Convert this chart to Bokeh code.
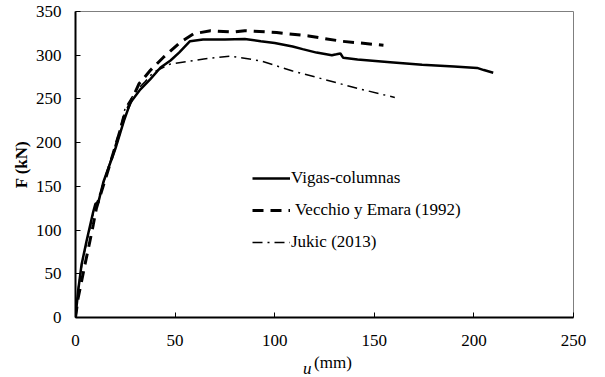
import math
from bokeh.plotting import figure
from bokeh.models import Range1d, Legend, LegendItem, FixedTicker, Label
from bokeh.embed import file_html
from bokeh.resources import INLINE

# Vigas-columnas (solid)
vc_u = [0, 1.3, 3, 5.5, 8.9, 10, 11.5, 14, 20, 24.3, 27.6, 32.6, 37.7, 42.7, 47.7, 52,
        57.5, 64, 75, 85, 93, 100, 109, 114, 121, 128.7, 131, 133, 134.4, 141.6, 158,
        174, 190, 201.6, 205, 209.7]
vc_f = [0, 30, 60, 87, 121, 130, 132, 155, 193, 225, 246, 261, 273, 286, 294, 303,
        316, 318, 318, 318.5, 316, 314, 310, 307, 303, 300, 301, 302, 297, 295, 292,
        289, 287, 285.5, 283, 280]

# Vecchio y Emara (1992) (dashed)
ve_u = [0, 1.3, 3, 4.7, 7.2, 8.9, 10.5, 16.7, 24.8, 31.8, 37.7, 44.3, 52.7, 59.4,
        67.8, 79.3, 85, 101, 117, 133.5, 154.6]
ve_f = [0, 22, 41, 60, 87, 106, 125, 171, 232, 267, 283, 298, 315, 324.6, 328,
        326.4, 328, 326, 322, 316, 311.4]

# Jukic (2013) (dash-dot)
jk_u = [0, 1.5, 3.5, 6, 9, 12, 17, 21, 25, 30, 35, 39.2, 47.7, 64.4, 77.8, 93, 109,
        125.4, 141.6, 160.3]
jk_f = [0, 35, 65, 90, 120, 140, 175, 205, 240, 258, 270, 280.6, 290, 295.7, 299,
        293.5, 282, 272, 262, 251.7]

x_ticks = [0, 50, 100, 150, 200, 250]
y_ticks = [0, 50, 100, 150, 200, 250, 300, 350]

FONT = "Times New Roman"

p = figure(width=605, height=377, output_backend="svg", toolbar_location=None,
           x_range=Range1d(0, 250), y_range=Range1d(0, 350),
           min_border_left=75, min_border_right=32, min_border_top=11,
           min_border_bottom=60)

p.xgrid.visible = False
p.ygrid.visible = False
p.outline_line_color = "#7f7f7f"
p.outline_line_width = 1

for ax in (p.xaxis[0], p.yaxis[0]):
    ax.axis_line_color = "black"
    ax.axis_line_width = 2
    ax.major_tick_in = 5
    ax.major_tick_out = 0
    ax.major_tick_line_color = "black"
    ax.major_tick_line_width = 1
    ax.minor_tick_line_color = None
    ax.major_label_text_font = FONT
    ax.major_label_text_font_size = "17px"
    ax.major_label_text_color = "black"
    ax.axis_label_text_font = FONT
    ax.axis_label_text_font_size = "17px"
    ax.axis_label_text_color = "black"
p.xaxis.ticker = FixedTicker(ticks=x_ticks)
p.yaxis.ticker = FixedTicker(ticks=y_ticks)
p.xaxis.major_label_standoff = 17
p.yaxis.major_label_standoff = 14

p.yaxis.axis_label = "F (kN)"
p.yaxis.axis_label_text_font_style = "bold"
p.yaxis.axis_label_standoff = 2

p.xaxis.axis_label = "\u00a0\u00a0\u00a0\u00a0(mm)"
p.xaxis.axis_label_text_font_style = "normal"
p.xaxis.axis_label_standoff = 4

r1 = p.line(vc_u, vc_f, line_color="black", line_width=2.5)
r2 = p.line(ve_u, ve_f, line_color="black", line_width=3, line_dash="11 7")
r3 = p.line(jk_u, jk_f, line_color="black", line_width=1.5, line_dash="10 5 2 5")

legend = Legend(items=[
    LegendItem(label="Vigas-columnas", renderers=[r1]),
    LegendItem(label=" Vecchio y Emara (1992)", renderers=[r2]),
    LegendItem(label="Jukic (2013)", renderers=[r3]),
], location=(177, 65), border_line_color=None, background_fill_alpha=0,
    label_text_font=FONT, label_text_font_size="17px", label_text_color="black",
    glyph_width=38, glyph_height=20, label_height=20, label_standoff=1,
    spacing=12, padding=0, margin=0)
p.add_layout(legend, "center")

# italic "u" of the x-axis title, hosted in the right side panel
p.add_layout(Label(x=-262, y=-51, x_units="screen", y_units="screen", text="u",
                   text_font=FONT, text_font_size="17px", text_font_style="italic",
                   text_color="black", text_align="right",
                   text_baseline="alphabetic"), "right")

open("out.html", "w").write(file_html(p, INLINE))
